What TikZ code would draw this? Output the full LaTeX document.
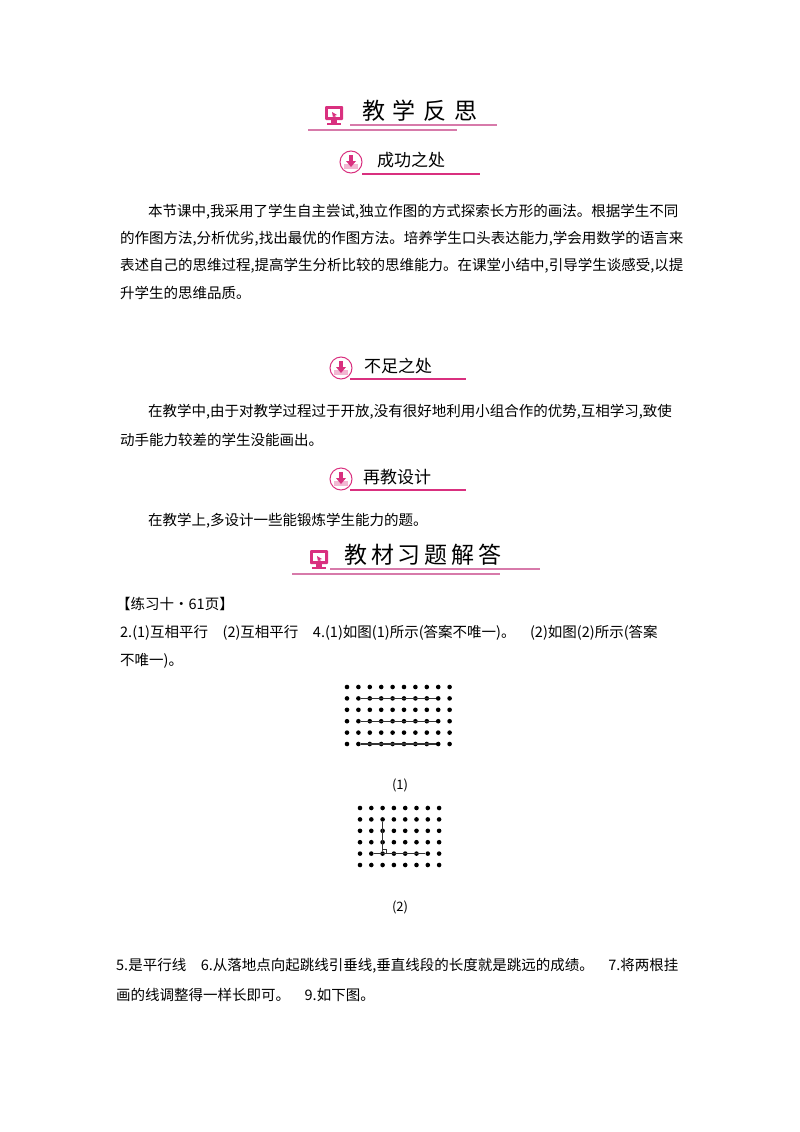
\documentclass[tikz,border=0pt]{standalone}
\usepackage{fontspec}
\usetikzlibrary{calc}
\setmainfont{Noto Sans CJK SC}
\definecolor{pk}{HTML}{D9307F}
\definecolor{pkl}{HTML}{D77AAA}
\begin{document}
\begin{tikzpicture}[x=1pt,y=-1pt,
  body/.style={anchor=west,inner sep=0,font=\fontsize{14.5}{14.5}\selectfont},
  captxt/.style={anchor=center,inner sep=0,font=\fontsize{13}{13}\selectfont},
  head/.style={anchor=west,inner sep=0,font=\fontsize{23}{23}\selectfont},
  sub/.style={anchor=west,inner sep=0,font=\fontsize{17}{17}\selectfont},
  dot/.style={circle,fill=black,inner sep=0,minimum size=4.6pt},
  gl/.style={line width=1.2pt,black!80}]
\useasboundingbox (0,0) rectangle (800,1132);
\tikzset{
 monitor/.pic={\fill[pk,rounded corners=1pt](-9,-8) rectangle (9,6);
  \fill[white](-6,-5) rectangle (6,3);
  \fill[pk](-2,-2)--(3,1)--(1,1.5)--(2,4)--(1,4)--(0,2)--(-1,3.5)--cycle;
  \fill[pk](-3,6) rectangle (3,9); \fill[pk](-7,9) rectangle (7,11);},
 dload/.pic={\draw[pk,line width=1pt](0,0) circle (11);
  \fill[pk!35](-7,2) rectangle (7,7);
  \fill[pk](-2,-7) rectangle (2,-1); \fill[pk](-5,-1)--(5,-1)--(0,5)--cycle;}}
% header 1
\pic at (334,114) {monitor};
\node[head] (h1) at (362,111) {教\,\,学\,\,反\,\,思};
\draw[pkl,line width=1.3pt] (350,125) -- (497,125);
\draw[pkl,line width=1.3pt] (308,130) -- (457,130);
% sub 1
\pic at (351,162) {dload};
\node[sub] (s1) at (377,160) {成功之处};
\draw[pk,line width=1.2pt] (362,174) -- (480,174);
\node[body] (t1) at (148,212) {本节课中,我采用了学生自主尝试,独立作图的方式探索长方形的画法。根据学生不同};
\node[body] (t2) at (120,239) {的作图方法,分析优劣,找出最优的作图方法。培养学生口头表达能力,学会用数学的语言来};
\node[body] (t3) at (120,266) {表述自己的思维过程,提高学生分析比较的思维能力。在课堂小结中,引导学生谈感受,以提};
\node[body] (t4) at (120,293) {升学生的思维品质。};
% sub 2
\pic at (341,368) {dload};
\node[sub] (s2) at (364,366) {不足之处};
\draw[pk,line width=1.2pt] (350,379) -- (466,379);
\node[body] (t5) at (148,412) {在教学中,由于对教学过程过于开放,没有很好地利用小组合作的优势,互相学习,致使};
\node[body] (t6) at (120,440) {动手能力较差的学生没能画出。};
% sub 3
\pic at (341,479) {dload};
\node[sub] (s3) at (363,477) {再教设计};
\draw[pk,line width=1.2pt] (350,490) -- (466,490);
\node[body] (t7) at (148,521) {在教学上,多设计一些能锻炼学生能力的题。};
% header 2
\pic at (319,558) {monitor};
\node[head] (h2) at (344,555) {教\,材\,习\,题\,解\,答};
\draw[pkl,line width=1.3pt] (330,569) -- (540,569);
\draw[pkl,line width=1.3pt] (292,574) -- (500,574);
\node[body] (t8) at (116,604) {【练习十•61页】};
\node[body] (t9) at (120,633) {2.(1)互相平行\quad(2)互相平行\quad4.(1)如图(1)所示(答案不唯一)。\quad(2)如图(2)所示(答案};
\node[body] (t10) at (120,661) {不唯一)。};
% grid 1
\foreach \c in {0,...,9}{\foreach \r in {0,...,5}{
  \node[dot] (a\c-\r) at (347+11.4*\c,687+11.4*\r) {};}}
\foreach \r in {1,3,5}{\draw[gl] (a1-\r) -- (a8-\r);}
\node[captxt] (c1) at (400,785) {(1)};
% grid 2
\foreach \c in {0,...,7}{\foreach \r in {0,...,5}{
  \node[dot] (b\c-\r) at (360+11.3*\c,808+11.4*\r) {};}}
\draw[gl] (b2-1) -- (b2-4);
\draw[gl] (b1-4) -- (b6-4);
\draw[black!80,line width=0.7pt] ($(b2-4)+(0,-4)$) -| ($(b2-4)+(4,0)$);
\node[captxt] (c2) at (400,907) {(2)};
\node[body] (t11) at (116,966) {5.是平行线\quad6.从落地点向起跳线引垂线,垂直线段的长度就是跳远的成绩。\quad7.将两根挂};
\node[body] (t12) at (116,995) {画的线调整得一样长即可。\quad9.如下图。};
\end{tikzpicture}
\end{document}
